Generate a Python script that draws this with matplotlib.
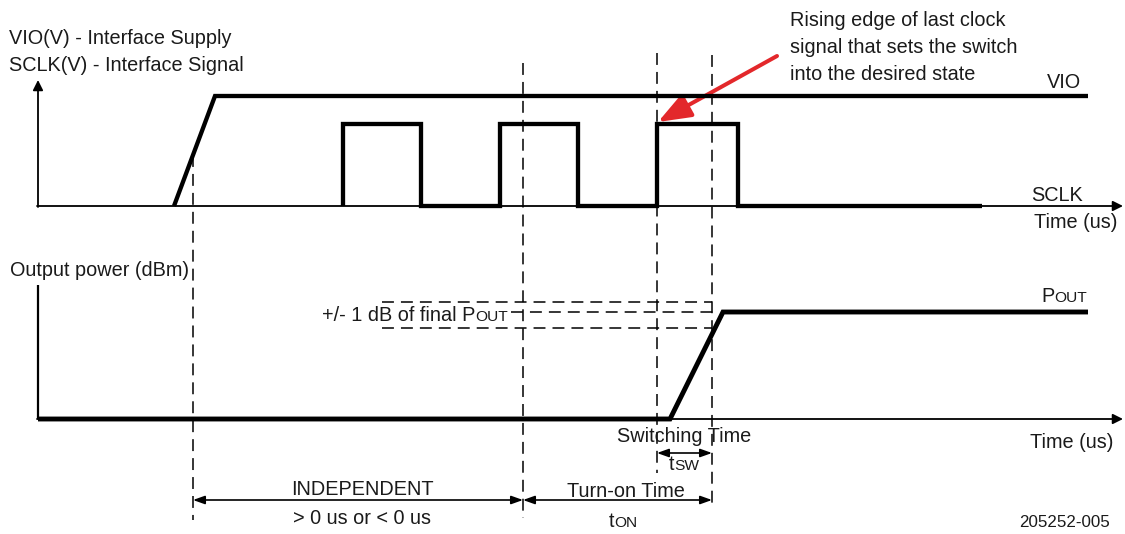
import matplotlib
matplotlib.use("Agg")
import matplotlib.pyplot as plt
from matplotlib import font_manager as fm
from matplotlib.transforms import blended_transform_factory

# ---------------- data (time in us, arbitrary units) ----------------
vio_t = [1.36, 1.77, 10.50]
vio_level = [0.0, 1.0, 1.0]

sclk_t = [3.05, 3.05, 3.83, 3.83, 4.62, 4.62, 5.40, 5.40, 6.19, 6.19, 7.00, 7.00, 9.44]
sclk_level = [0.0, 0.745, 0.745, 0.0, 0.0, 0.745, 0.745, 0.0, 0.0, 0.745, 0.745, 0.0, 0.0]

pout_t = [0.0, 6.32, 6.85, 10.50]
pout_level = [0.0, 0.0, 1.0, 1.0]

band_upper = 1.093      # +1 dB
band_final = 1.0        # final POUT
band_lower = 0.850      # -1 dB
band_t = [3.44, 6.74]
final_t = [4.73, 6.80]

marker_t = [1.55, 4.85, 6.19, 6.74]          # vertical dashed reference times
marker_top = [155, 63, 53, 55]               # extents (px from top)
marker_bot = [520, 518, 473, 508]

interval_labels = ["INDEPENDENT", "Turn-on Time"]


def has_font(name):
    try:
        fm.findfont(fm.FontProperties(family=name), fallback_to_default=False)
        return True
    except Exception:
        return False


FONT = 'Liberation Sans Narrow' if has_font('Liberation Sans Narrow') else 'Liberation Sans'
plt.rcParams['font.family'] = [FONT, 'DejaVu Sans']
FS = 15.5 if FONT == 'Liberation Sans Narrow' else 14.3

W, H = 1125, 534
fig = plt.figure(figsize=(W / 100, H / 100), dpi=100)
fig.patch.set_facecolor('white')

# overlay axes in pixel coordinates (for annotations)
ov = fig.add_axes([0, 0, 1, 1])
ov.set_xlim(0, W)
ov.set_ylim(H, 0)
ov.axis('off')

XL = (-0.38, 10.87)
ax_top = fig.add_axes([0, 0, 1, 1], facecolor='none')
ax_top.set_xlim(*XL)
ax_top.set_ylim((206 - H) / 110, 206 / 110)
ax_top.axis('off')

ax_bot = fig.add_axes([0, 0, 1, 1], facecolor='none')
ax_bot.set_xlim(*XL)
ax_bot.set_ylim((419 - H) / 107, 419 / 107)
ax_bot.axis('off')

bt = blended_transform_factory(ax_top.transData, ov.transData)

THICK = 3.1
THIN = 1.3
DASH = (0, (7.8, 4.6))
DLW = 1.1

# ---------------- axes of the diagram ----------------
def arrow(p0, p1, style='-|>', lw=THIN, color='k', hl=0.6, hw=0.3, ms=10, coords=None):
    ov.annotate('', xy=p1, xytext=p0, xycoords=coords or 'data', textcoords=coords or 'data',
                arrowprops=dict(arrowstyle=f'{style},head_length={hl},head_width={hw}',
                                lw=lw, color=color, shrinkA=0, shrinkB=0,
                                mutation_scale=ms))

# top panel axes
arrow((38, 207), (38, 80))
arrow((37, 206), (1123, 206))
# bottom panel axes
ov.plot([38, 38], [285, 419], color='k', lw=THIN + 0.3, solid_capstyle='butt')
arrow((37, 419), (1123, 419))

# ---------------- vertical dashed markers ----------------
for t, y0, y1 in zip(marker_t, marker_top, marker_bot):
    ov.plot([t, t], [y0, y1], transform=bt, color='k', lw=DLW, linestyle=DASH)

# +/- 1 dB band
ax_bot.plot(band_t, [band_upper] * 2, color='k', lw=DLW, linestyle=DASH)
ax_bot.plot(band_t, [band_lower] * 2, color='k', lw=DLW, linestyle=DASH)
ax_bot.plot(final_t, [band_final] * 2, color='k', lw=DLW, linestyle=DASH)

# ---------------- signals ----------------
ax_top.plot(vio_t, vio_level, color='k', lw=THICK, solid_joinstyle='miter', solid_capstyle='butt')
ax_top.plot(sclk_t, sclk_level, color='k', lw=THICK, solid_joinstyle='miter', solid_capstyle='butt')
ax_bot.plot(pout_t, pout_level, color='k', lw=THICK + 0.4, solid_joinstyle='miter', solid_capstyle='butt')

# ---------------- interval arrows ----------------
arrow((marker_t[0], 500), (marker_t[1], 500), style='<|-|>', lw=1.2, coords=bt, hl=0.7, hw=0.25)
arrow((marker_t[1], 500), (marker_t[3], 500), style='<|-|>', lw=1.2, coords=bt, hl=0.7, hw=0.25)
arrow((marker_t[2], 453), (marker_t[3], 453), style='<|-|>', lw=1.2, coords=bt, hl=0.7, hw=0.25)

# red callout arrow
ov.annotate('', xy=(658, 122), xytext=(777, 56),
            arrowprops=dict(arrowstyle='-|>,head_length=1.0,head_width=0.38',
                            lw=2.9, color='#e3282b', shrinkA=0, shrinkB=0, mutation_scale=20))

# ---------------- text ----------------
renderer = fig.canvas.get_renderer()


def txt(x, y, s, ha='left', size=FS, **kw):
    return ov.text(x, y, s, ha=ha, va='baseline', fontsize=size, color='#1a1a1a', **kw)


def composite(x, y, parts, ha='left', size=FS):
    widths = []
    for s, sc in parts:
        t = ov.text(0, 0, s, fontsize=size * sc, va='baseline')
        widths.append(t.get_window_extent(renderer).width)
        t.remove()
    total = sum(widths)
    if ha == 'center':
        x = x - total / 2
    elif ha == 'right':
        x = x - total
    for (s, sc), w in zip(parts, widths):
        txt(x, y, s, size=size * sc)
        x += w


txt(9, 44, "VIO(V) - Interface Supply")
txt(9, 71, "SCLK(V) - Interface Signal")

txt(790, 26, "Rising edge of last clock")
txt(790, 53, "signal that sets the switch")
txt(790, 80, "into the desired state")

txt(1081, 88, "VIO", ha='right')
txt(1083, 201, "SCLK", ha='right')
txt(1117, 228, "Time (us)", ha='right')

txt(10, 276, "Output power (dBm)")
composite(508, 321, [("+/- 1 dB of final P", 1.0), ("OUT", 0.78)], ha='right')
composite(1041, 302, [("P", 1.0), ("OUT", 0.78)])

txt(617, 442, "Switching Time")
txt(1113, 448, "Time (us)", ha='right')
composite(684, 470, [("t", 1.0), ("SW", 0.78)], ha='center')

txt(362, 495, interval_labels[0], ha='center')
txt(362, 524, "> 0 us or < 0 us", ha='center')
txt(567, 497, interval_labels[1])
composite(623, 527, [("t", 1.0), ("ON", 0.78)], ha='center')

txt(1110, 527, "205252-005", ha='right', size=FS * 0.85)

fig.savefig("out.png", dpi=100, facecolor='white')
